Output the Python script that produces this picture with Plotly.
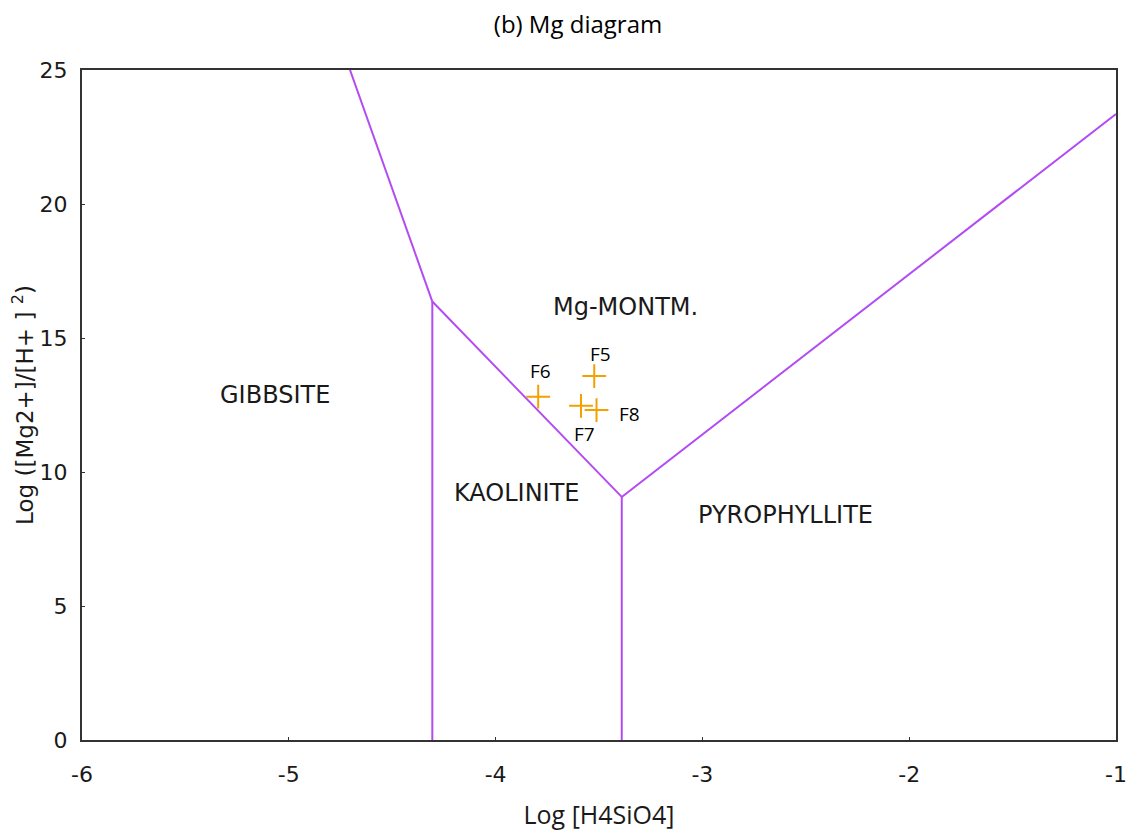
import plotly.graph_objects as go

# Phase boundary lines (Log H4SiO4, Log Mg2+/H+^2)
gibbsite_montm_x = [-4.704, -4.306]
gibbsite_montm_y = [25.0, 16.36]
gibbsite_kaol_x = [-4.306, -4.306]
gibbsite_kaol_y = [16.36, 0.0]
kaol_montm_x = [-4.306, -3.390]
kaol_montm_y = [16.36, 9.07]
kaol_pyro_x = [-3.390, -3.390]
kaol_pyro_y = [9.07, 0.0]
pyro_montm_x = [-3.390, -1.0]
pyro_montm_y = [9.07, 23.36]

# Samples
sample_names = ["F5", "F6", "F7", "F8"]
sample_x = [-3.523, -3.794, -3.587, -3.512]
sample_y = [13.58, 12.81, 12.47, 12.31]

# Region labels
region_names = ["Mg-MONTM.", "GIBBSITE", "KAOLINITE", "PYROPHYLLITE"]
region_x = [-3.374, -5.067, -3.897, -2.596]
region_y = [16.16, 12.87, 9.22, 8.40]

# Tick labels
x_ticks = [-6, -5, -4, -3, -2, -1]
x_tick_text = ["-6", "-5", "-4", "-3", "-2", "-1"]
y_ticks = [0, 5, 10, 15, 20, 25]
y_tick_text = ["0", "5", "10", "15", "20", "25"]

line_color = "#B24BF3"
fig = go.Figure()
for xs, ys in [(gibbsite_montm_x, gibbsite_montm_y), (gibbsite_kaol_x, gibbsite_kaol_y),
               (kaol_montm_x, kaol_montm_y), (kaol_pyro_x, kaol_pyro_y),
               (pyro_montm_x, pyro_montm_y)]:
    fig.add_trace(go.Scatter(x=xs, y=ys, mode="lines",
                             line=dict(color=line_color, width=2), showlegend=False,
                             hoverinfo="skip"))

fig.add_trace(go.Scatter(x=sample_x, y=sample_y, mode="markers",
                         marker=dict(symbol="cross-thin", size=17,
                                     line=dict(color="#F2A100", width=2)),
                         showlegend=False))

# sample labels offsets (pixels: right, down)
offsets = {"F5": (6, -22), "F6": (2, -26), "F7": (3, 28), "F8": (33, 4)}
for n, x, y in zip(sample_names, sample_x, sample_y):
    dx, dy = offsets[n]
    fig.add_annotation(x=x, y=y, text=n, showarrow=False, xshift=dx, yshift=-dy,
                       font=dict(family="Open Sans", size=19, color="#000"))

for n, x, y in zip(region_names, region_x, region_y):
    fig.add_annotation(x=x, y=y, text=n, showarrow=False,
                       font=dict(family="DejaVu Sans", size=24, color="#1a1a1a"))

axis_common = dict(showgrid=False, zeroline=False, showline=True, linecolor="#333",
                   linewidth=2, mirror=True, ticks="inside", ticklen=3, tickcolor="#333",
                   automargin=False, ticklabeloverflow="allow",
                   tickfont=dict(family="DejaVu Sans", size=22, color="#1a1a1a"))
fig.update_layout(
    width=1118, height=823,
    margin=dict(l=74, r=10, t=62, b=91),
    plot_bgcolor="white", paper_bgcolor="white",
    title=dict(text="(b) Mg diagram", x=(578 - 8) / 1118, xanchor="center",
               y=1 - 17 / 823, yanchor="middle", automargin=False,
               font=dict(family="Open Sans", size=24, color="#000")),
    xaxis=dict(range=[-6, -1], tickvals=x_ticks, ticktext=x_tick_text, ticklabelstandoff=14,
               title=dict(text="Log [H4SiO4]", standoff=24,
                          font=dict(family="Open Sans", size=25, color="#1a1a1a")),
               **axis_common),
    yaxis=dict(range=[0, 25], tickvals=y_ticks, ticktext=y_tick_text, ticklabelstandoff=8,
               title=dict(text="Log ([Mg2+]/[H+ ] <sup>2</sup>)", standoff=10,
                          font=dict(family="DejaVu Sans", size=23, color="#1a1a1a")),
               **axis_common),
)
fig.write_html("out.html")
